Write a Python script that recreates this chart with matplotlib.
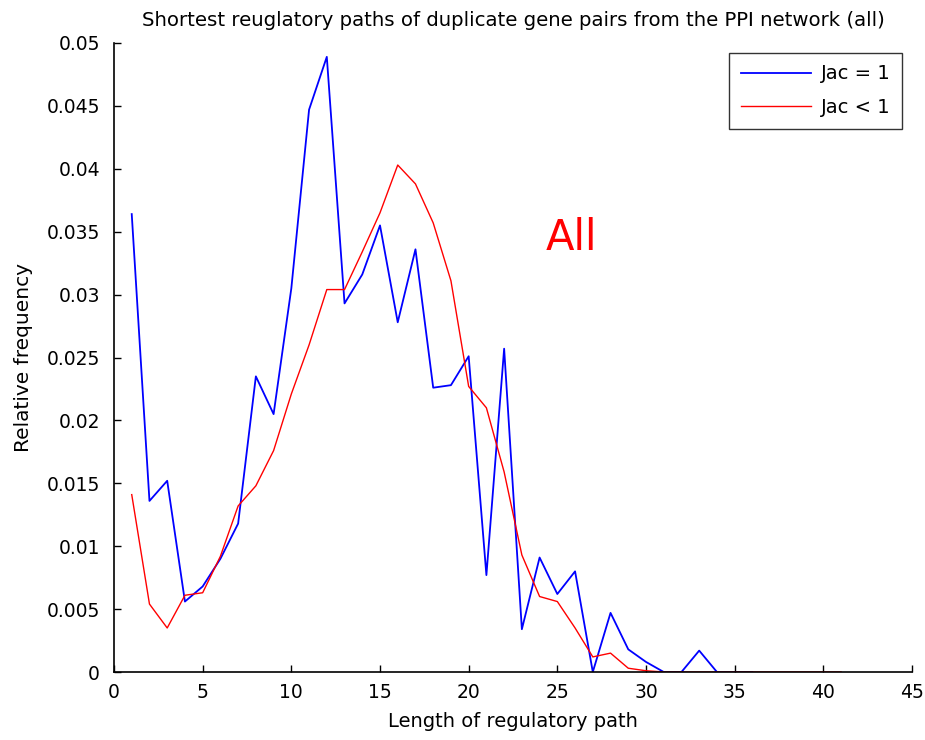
import matplotlib
matplotlib.use('Agg')
import matplotlib.pyplot as plt
import numpy as np

plt.rcParams['font.family'] = ['DejaVu Sans']

# Path length bins
x_jac1 = np.arange(1, 37)
x_jaclt1 = np.arange(1, 42)

# Relative frequency, Jac = 1
y_jac1 = [0.0364, 0.0136, 0.0152, 0.0056, 0.0068, 0.0090, 0.0118, 0.0235, 0.0205, 0.0305,
          0.0447, 0.0489, 0.0293, 0.0316, 0.0355, 0.0278, 0.0336, 0.0226, 0.0228, 0.0251,
          0.0077, 0.0257, 0.0034, 0.0091, 0.0062, 0.0080, 0.0, 0.0047, 0.0018, 0.0008,
          0.0, 0.0, 0.0017, 0.0, 0.0, 0.0]

# Relative frequency, Jac < 1
y_jaclt1 = [0.0141, 0.0054, 0.0035, 0.0061, 0.0063, 0.0092, 0.0132, 0.0148, 0.0176, 0.0221,
            0.0260, 0.0304, 0.0304, 0.0334, 0.0365, 0.0403, 0.0388, 0.0357, 0.0311, 0.0227,
            0.0210, 0.0159, 0.0093, 0.0060, 0.0056, 0.0035, 0.0012, 0.0015, 0.0003, 0.0001,
            0.0, 0.0, 0.0, 0.0, 0.0, 0.0, 0.0, 0.0, 0.0, 0.0, 0.0]

xticks = np.arange(0, 46, 5)
yticks = np.arange(0, 0.0501, 0.005)
ytick_labels = ['0', '0.005', '0.01', '0.015', '0.02', '0.025', '0.03', '0.035', '0.04', '0.045', '0.05']

fig = plt.figure(figsize=(9.25, 7.4), dpi=100)
ax = fig.add_axes([114 / 925, 68 / 740, 798 / 925, 629 / 740])

ax.plot(x_jac1, y_jac1, color='blue', lw=1.3, label='Jac = 1')
ax.plot(x_jaclt1, y_jaclt1, color='red', lw=1.0, label='Jac < 1')

ax.set_xlim(0, 45)
ax.set_ylim(0, 0.05)
ax.set_xticks(xticks)
ax.set_yticks(yticks)
ax.set_yticklabels(ytick_labels)
ax.tick_params(direction='in', length=5, labelsize=13.5, width=1, pad=8)
ax.tick_params(axis='y', pad=10)

ax.spines['top'].set_visible(False)
ax.spines['right'].set_visible(False)
for s in ['left', 'bottom']:
    ax.spines[s].set_linewidth(1.2)

ax.set_title('Shortest reuglatory paths of duplicate gene pairs from the PPI network (all)',
             fontsize=14.2, pad=12)
ax.set_xlabel('Length of regulatory path', fontsize=14, labelpad=7)
ax.set_ylabel('Relative frequency', fontsize=14.5, labelpad=10)

ax.text(25.8, 0.0345, 'All', color='red', fontsize=30, ha='center', va='center')

leg = ax.legend(loc='upper right', fontsize=14, frameon=True, fancybox=False,
                handlelength=3.6, handletextpad=0.5, labelspacing=0.75,
                borderaxespad=0.5, borderpad=0.6)
leg.get_frame().set_edgecolor('black')
leg.get_frame().set_linewidth(1.0)

fig.savefig('out.png', dpi=100)
